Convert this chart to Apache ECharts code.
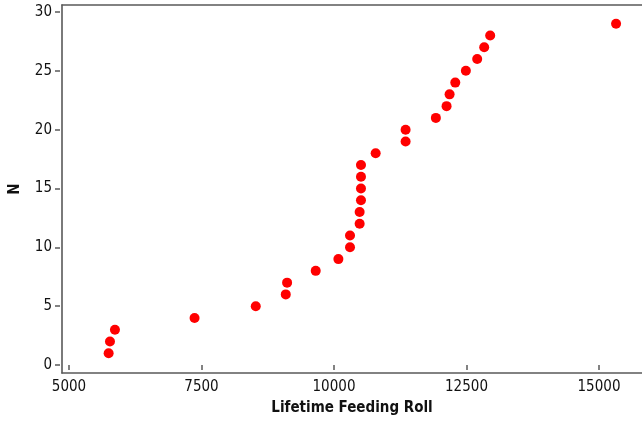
<!DOCTYPE html>
<html>
<head>
<meta charset="utf-8">
<script src="https://cdn.jsdelivr.net/npm/echarts@6/dist/echarts.min.js"></script>
<style>
  html, body { margin: 0; padding: 0; background: #fff; }
  #chart { width: 642px; height: 421px; }
</style>
</head>
<body>
<div id="chart"></div>
<script>
// data
const feedingRoll = [5748, 5773, 5867, 7369, 8524, 9090, 9115, 9655, 10083, 10302,
  10302, 10484, 10484, 10509, 10509, 10509, 10509, 10786, 11351, 11351,
  11922, 12124, 12181, 12288, 12488, 12702, 12834, 12947, 15322];
const nValues = [1, 2, 3, 4, 5, 6, 7, 8, 9, 10,
  11, 12, 13, 14, 15, 16, 17, 18, 19, 20,
  21, 22, 23, 24, 25, 26, 27, 28, 29];
const xTicks = [5000, 15000, 2500];   // min, max, step
const yTicks = [0, 30, 5];

const font = '"DejaVu Sans Condensed", "DejaVu Sans", sans-serif';
const lineColor = '#595959';
const frameLine = { show: true, lineStyle: { color: lineColor, width: 1.6 } };
const hidden = { show: false };

const chart = echarts.init(document.getElementById('chart'));

const option = {
  animation: false,
  grid: [
    // frame (runs off the right edge)
    { left: 60, top: 5, width: 592, height: 368 },
    // data area
    { left: 69, top: 12, right: 43, bottom: 56 }
  ],
  xAxis: [
    {
      gridIndex: 0, type: 'value', min: 0, max: 1, position: 'bottom',
      name: 'Lifetime Feeding Roll', nameLocation: 'middle', nameGap: 28,
      nameTextStyle: { fontFamily: font, fontWeight: 'bold', fontSize: 15, color: '#111' },
      axisLine: frameLine, axisTick: hidden, axisLabel: hidden, splitLine: hidden
    },
    {
      gridIndex: 0, type: 'value', min: 0, max: 1, position: 'top',
      axisLine: frameLine, axisTick: hidden, axisLabel: hidden, splitLine: hidden
    },
    {
      gridIndex: 1, type: 'value', min: xTicks[0], max: xTicks[1], interval: xTicks[2],
      offset: 8,
      axisLine: hidden,
      axisTick: { show: true, length: 5, lineStyle: { color: lineColor, width: 1.5 } },
      axisLabel: { fontFamily: font, fontSize: 15, color: '#111', margin: 7, formatter: (v) => String(v) },
      splitLine: hidden
    }
  ],
  yAxis: [
    {
      gridIndex: 0, type: 'value', min: 0, max: 1, position: 'left',
      name: 'N', nameLocation: 'middle', nameGap: 39,
      nameTextStyle: { fontFamily: font, fontWeight: 'bold', fontSize: 15, color: '#111' },
      axisLine: frameLine, axisTick: hidden, axisLabel: hidden, splitLine: hidden
    },
    {
      gridIndex: 1, type: 'value', min: yTicks[0], max: yTicks[1], interval: yTicks[2],
      offset: 9,
      axisLine: hidden,
      axisTick: { show: true, length: 5, lineStyle: { color: lineColor, width: 1.5 } },
      axisLabel: { fontFamily: font, fontSize: 15, color: '#111', margin: 8, formatter: (v) => String(v) },
      splitLine: hidden
    }
  ],
  series: [
    {
      type: 'scatter',
      xAxisIndex: 2,
      yAxisIndex: 1,
      clip: false,
      symbolSize: 10,
      itemStyle: { color: '#ff0000', opacity: 1 },
      data: feedingRoll.map((x, i) => [x, nValues[i]])
    }
  ]
};

chart.setOption(option);
</script>
</body>
</html>
